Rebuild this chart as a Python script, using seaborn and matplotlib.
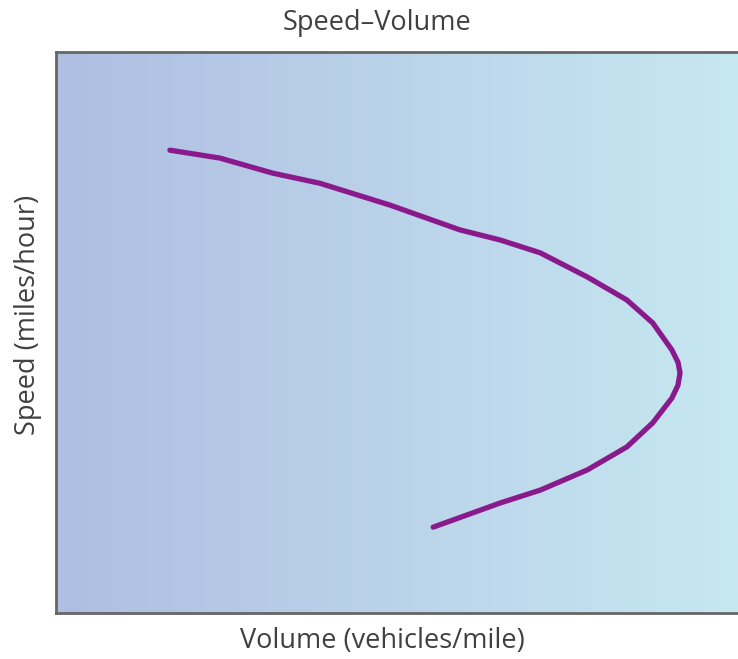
import seaborn as sns
import matplotlib.pyplot as plt
import numpy as np
import pandas as pd
from matplotlib.colors import LinearSegmentedColormap

# curve (axes units 0-100)
volume = [16.7, 24.0, 31.8, 38.7, 49.0, 59.2, 65.1, 71.0, 77.9, 83.7,
          87.5, 90.3, 91.2, 91.5, 91.2, 90.3, 87.5, 83.7, 77.9, 71.0,
          65.1, 55.3]
speed = [82.5, 81.1, 78.4, 76.6, 72.7, 68.3, 66.5, 64.2, 59.9, 55.8,
         51.7, 46.9, 44.7, 42.8, 40.6, 38.3, 33.9, 29.6, 25.5, 21.9,
         19.6, 15.3]

title = 'Speed\u2013Volume'
xlabel = 'Volume (vehicles/mile)'
ylabel = 'Speed (miles/hour)'

sns.set_style('white')
plt.rcParams['font.family'] = ['Open Sans', 'DejaVu Sans']

df = pd.DataFrame({'volume': volume, 'speed': speed})

fig = plt.figure(figsize=(7.38, 6.59), dpi=100)
ax = fig.add_axes([56 / 738, 1 - 613 / 659, (738 - 56) / 738, (613 - 52) / 659])

# background gradient
cmap = LinearSegmentedColormap.from_list('bg', ['#afbee2', '#c6e8f1'])
grad = np.linspace(0, 1, 256).reshape(1, -1)
ax.imshow(grad, aspect='auto', cmap=cmap, extent=[0, 100, 0, 100], zorder=0)

sns.lineplot(data=df, x='volume', y='speed', sort=False, estimator=None,
             errorbar=None, color='#8a1a8c', linewidth=3.8, ax=ax, zorder=2)
ax.lines[0].set_solid_capstyle('round')
ax.lines[0].set_solid_joinstyle('round')

ax.set_xlim(0, 100)
ax.set_ylim(0, 100)
ax.set_xticks([])
ax.set_yticks([])
for s in ax.spines.values():
    s.set_color('#666666')
    s.set_linewidth(2)
ax.spines['right'].set_visible(False)

ax.set_title(title, fontsize=19.5, color='#404040', pad=16, x=0.47)
ax.set_xlabel(xlabel, fontsize=19.5, color='#404040', labelpad=10)
ax.set_ylabel(ylabel, fontsize=19.5, color='#404040', labelpad=10)
ax.xaxis.label.set_x(0.478)
ax.yaxis.label.set_y(0.531)

fig.savefig('out.png', dpi=100)
